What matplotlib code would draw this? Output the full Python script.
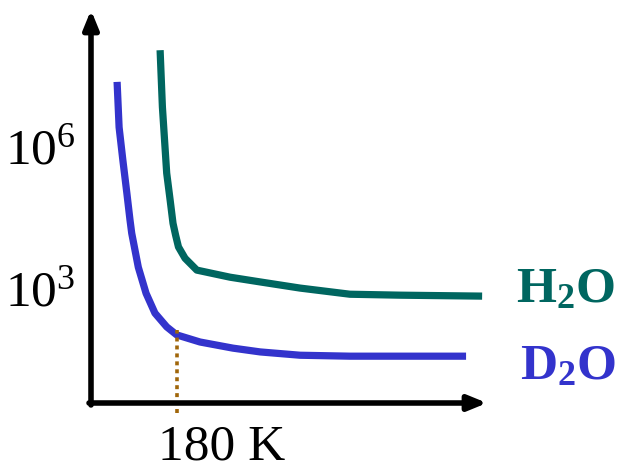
import numpy as np
import matplotlib
matplotlib.use('Agg')
import matplotlib.pyplot as plt
from matplotlib import font_manager

# pick a Times-like serif that is actually installed
names = {f.name for f in font_manager.fontManager.ttflist}
serif = next((n for n in ['Liberation Serif', 'Tinos', 'Times New Roman', 'Nimbus Roman',
                          'TeX Gyre Termes', 'DejaVu Serif'] if n in names), 'serif')

plt.rcParams['font.family'] = [serif, 'DejaVu Serif']
plt.rcParams['mathtext.fontset'] = 'custom'
plt.rcParams['mathtext.rm'] = serif
plt.rcParams['mathtext.it'] = serif + ':italic'
plt.rcParams['mathtext.bf'] = serif + ':bold'

# temperature (K) and log10 of the quantity
d2o_T = [159.1, 159.8, 161.1, 162.5, 163.6, 164.2, 166.5, 169.2, 172.3, 176.4,
         179.9, 188.0, 199.5, 209.0, 222.9, 240.3, 257.8, 280.8]
d2o_log = [7.36, 6.40, 5.71, 5.01, 4.44, 4.16, 3.44, 2.89, 2.47, 2.18,
           2.01, 1.86, 1.73, 1.65, 1.58, 1.56, 1.56, 1.56]
h2o_T = [174.1, 174.9, 176.4, 177.6, 178.6, 179.5, 180.5, 182.8, 186.9, 198.5,
         209.0, 222.9, 240.3, 257.8, 286.4]
h2o_log = [8.03, 6.83, 5.43, 4.86, 4.37, 4.12, 3.87, 3.63, 3.38, 3.23,
           3.13, 3.00, 2.87, 2.85, 2.83]

marker_T = 180
marker_label = '180 K'
ytick_vals = [1e3, 1e6]
ytick_labels = [r'$10^3$', r'$10^6$']

teal = '#006660'
blue = '#3333cc'
brown = '#a0660a'

fig = plt.figure(figsize=(6.18, 4.70), dpi=100)
ax = fig.add_axes([91 / 618, 67 / 470, 396 / 618, 393 / 470])
ax.set_yscale('log')
ax.set_xlim(150, 288.1)
ax.set_ylim(10 ** 0.57, 10 ** 8.88)

ax.plot(d2o_T, 10 ** np.array(d2o_log), color=blue, lw=5.2,
        solid_capstyle='butt', solid_joinstyle='round')
ax.plot(h2o_T, 10 ** np.array(h2o_log), color=teal, lw=5.2,
        solid_capstyle='butt', solid_joinstyle='round')

ax.axvline(marker_T, ymin=-0.025, ymax=0.186, color=brown, lw=2.6,
           ls=(0, (1.1, 1.1)), clip_on=False, zorder=3)

for s in ax.spines.values():
    s.set_visible(False)

# axes with arrow heads
arrow = dict(arrowstyle='-|>,head_length=1.1,head_width=0.45', color='black',
             lw=4, shrinkA=0, shrinkB=0)
ax.annotate('', xy=(0, 1), xytext=(0, -0.005), xycoords='axes fraction',
            arrowprops=arrow, annotation_clip=False)
ax.annotate('', xy=(1, 0), xytext=(-0.005, 0), xycoords='axes fraction',
            arrowprops=arrow, annotation_clip=False)

ax.set_xticks([])
ax.set_yticks(ytick_vals)
ax.set_yticklabels(ytick_labels)
ax.yaxis.set_minor_locator(matplotlib.ticker.NullLocator())
ax.tick_params(axis='y', length=0, pad=11, labelsize=37)

ax.annotate(marker_label, xy=(marker_T, 0), xycoords=('data', 'axes fraction'),
            xytext=(-14, -41), textcoords='offset points',
            ha='left', va='baseline', fontsize=37)

ax.text(298.2, 10 ** 2.70, r'$\mathbf{H_2O}$', color=teal, fontsize=37,
        ha='left', va='baseline')
ax.text(299.6, 10 ** 1.08, r'$\mathbf{D_2O}$', color=blue, fontsize=37,
        ha='left', va='baseline')

fig.savefig('out.png', dpi=100)
